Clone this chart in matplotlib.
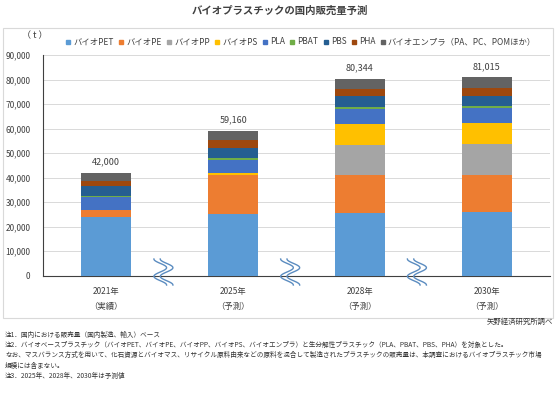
import numpy as np
import matplotlib.pyplot as plt
from matplotlib.patches import Rectangle
from matplotlib.lines import Line2D

plt.rcParams['font.family'] = ['Noto Sans CJK JP', 'DejaVu Sans']

# データ（単位: t）
years = ['2021年\n（実績）', '2025年\n（予測）', '2028年\n（予測）', '2030年\n（予測）']
series_names = ['バイオPET', 'バイオPE', 'バイオPP', 'バイオPS', 'PLA', 'PBAT', 'PBS', 'PHA',
                'バイオエンプラ（PA、PC、POMほか）']
bio_pet = [24000, 25000, 25600, 26100]
bio_pe = [2800, 16000, 15400, 15100]
bio_pp = [0, 0, 12400, 12400]
bio_ps = [0, 700, 8600, 8700]
pla = [5400, 5500, 6100, 6100]
pbat = [500, 600, 800, 800]
pbs = [4000, 4300, 4200, 4200]
pha = [1800, 3100, 3000, 3200]
enpla = [3500, 3960, 4244, 4415]
totals = [42000, 59160, 80344, 81015]

colors = ['#5B9BD5', '#ED7D31', '#A5A5A5', '#FFC000', '#4472C4', '#70AD47', '#255E91', '#9E480E', '#636363']
series = [bio_pet, bio_pe, bio_pp, bio_ps, pla, pbat, pbs, pha, enpla]

fig = plt.figure(figsize=(5.55, 3.99), dpi=100)
ax = fig.add_axes([43 / 555, 1 - 275.7 / 399, 507 / 555, 220.7 / 399])

x = np.arange(len(years))
bottom = np.zeros(len(years))
for vals, c, name in zip(series, colors, series_names):
    ax.bar(x, vals, 0.395, bottom=bottom, color=c, label=name, zorder=3)
    bottom += np.array(vals)

# 合計ラベル
for xi, t in zip(x, totals):
    ax.text(xi, t + 2500, f'{t:,}', ha='center', va='bottom', fontsize=6.5, color='#404040')

ax.set_xlim(-0.5, 3.5)
ax.set_ylim(0, 90000)
ax.set_yticks(np.arange(0, 90001, 10000))
ax.yaxis.set_major_formatter(plt.FuncFormatter(lambda v, p: f'{int(v):,}'))
ax.set_xticks(x)
ax.set_xticklabels(years, linespacing=1.9)
ax.tick_params(axis='both', length=0, labelsize=6, colors='#404040')
ax.tick_params(axis='y', pad=9)
ax.tick_params(axis='x', pad=8)
ax.grid(axis='y', color='#d9d9d9', linewidth=0.7, zorder=0)
for s in ['top', 'right']:
    ax.spines[s].set_visible(False)
ax.spines['left'].set_color('#404040')
ax.spines['bottom'].set_color('#404040')
ax.spines['left'].set_linewidth(0.8)
ax.spines['bottom'].set_linewidth(0.8)

# 省略記号（波線）
tt = np.linspace(0, 1, 60)
for xm in x[:-1] + 0.45:
    for off in (-0.025, 0.025):
        xs = xm + off - 0.05 * np.cos(3 * np.pi * tt)
        ys = 6800 - tt * 10600
        ax.plot(xs, ys, color='#5b8cc0', linewidth=1.0, clip_on=False, zorder=5)

# 凡例
handles = [Line2D([], [], marker='s', linestyle='', markersize=3.5, color=c) for c in colors]
fig.legend(handles, series_names, loc='center', bbox_to_anchor=(301 / 555, 1 - 42 / 399), ncol=9,
           frameon=False, fontsize=6, handlelength=0.6, handletextpad=0.3, columnspacing=0.6,
           labelcolor='#404040')

# 枠
fig.patches.append(Rectangle((3 / 555, 1 - 318 / 399), 550 / 555, 290 / 399, transform=fig.transFigure,
                             fill=False, edgecolor='#d9d9d9', linewidth=0.8))

fig.text(280 / 555, 1 - 11 / 399, 'バイオプラスチックの国内販売量予測', ha='center', va='center',
         fontsize=7.5, fontweight='bold', color='#404040')
fig.text(35 / 555, 1 - 36 / 399, '（ t ）', ha='center', va='center', fontsize=6.5, color='#404040')
fig.text(553 / 555, 1 - 322 / 399, '矢野経済研究所調べ', ha='right', va='center', fontsize=5.3, color='#333333')

notes = [
    '注1．国内における販売量（国内製造、輸入）ベース',
    '注2．バイオベースプラスチック（バイオPET、バイオPE、バイオPP、バイオPS、バイオエンプラ）と生分解性プラスチック（PLA、PBAT、PBS、PHA）を対象とした。',
    'なお、マスバランス方式を用いて、化石資源とバイオマス、リサイクル原料由来などの原料を混合して製造されたプラスチックの販売量は、本調査におけるバイオプラスチック市場',
    '規模には含まない。',
    '注3．2025年、2028年、2030年は予測値',
]
for i, line in enumerate(notes):
    fig.text(5 / 555, 1 - (335 + 10.2 * i) / 399, line, ha='left', va='center', fontsize=4.75, color='#333333')

fig.savefig('out.png', dpi=100, facecolor='white')
